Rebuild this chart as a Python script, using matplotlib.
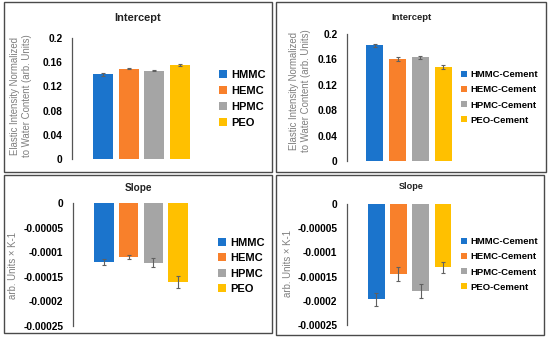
import matplotlib
matplotlib.use("Agg")
import matplotlib.pyplot as plt
from matplotlib.patches import Rectangle, Patch
import numpy as np

plt.rcParams['font.family'] = ['Liberation Sans', 'DejaVu Sans']

# ---------------- data ----------------
labels_left = ["HMMC", "HEMC", "HPMC", "PEO"]
labels_right = ["HMMC-Cement", "HEMC-Cement", "HPMC-Cement", "PEO-Cement"]
colors = ["#1b74cc", "#f8802b", "#a5a5a5", "#ffc000"]

intercept_polymer = [0.140, 0.149, 0.146, 0.155]
intercept_polymer_err = [0.002, 0.001, 0.001, 0.002]
intercept_cement = [0.182, 0.160, 0.163, 0.148]
intercept_cement_err = [0.003, 0.003, 0.003, 0.003]

slope_polymer = [-0.000120, -0.000109, -0.000121, -0.000160]
slope_polymer_err = [0.000006, 0.000004, 0.000010, 0.000012]
slope_cement = [-0.000197, -0.000145, -0.000180, -0.000131]
slope_cement_err = [0.000014, 0.000015, 0.000014, 0.000012]

intercept_ticks = [0, 0.04, 0.08, 0.12, 0.16, 0.2]
intercept_ticklabels = ["0", "0.04", "0.08", "0.12", "0.16", "0.2"]
slope_ticks = [0, -0.00005, -0.0001, -0.00015, -0.0002, -0.00025]
slope_ticklabels = ["0", "-0.00005", "-0.0001", "-0.00015", "-0.0002", "-0.00025"]

W, H = 550, 341
fig = plt.figure(figsize=(W / 100, H / 100), dpi=100)


def fx(px):
    return px / W


def fy(py):
    return 1 - py / H


# panel borders (pixel boxes)
for (x0, y0, x1, y1) in [(4, 2, 272, 172), (276, 2, 546, 172),
                         (4, 175, 272, 333), (276, 175, 544, 335)]:
    fig.patches.append(Rectangle((fx(x0), fy(y1)), fx(x1 - x0), (y1 - y0) / H,
                                 transform=fig.transFigure, fill=False,
                                 edgecolor="#4a4a4a", linewidth=1.0))


def panel(rect_px, xlim, values, errs, ylim, ticks, ticklabels, width, labels,
          title, title_xy, title_size, ylabel, ylabel_xy, leg_xy, leg_size,
          leg_spacing, handle_w):
    x0, ytop, x1, ybot = rect_px
    ax = fig.add_axes([fx(x0), fy(ybot), fx(x1 - x0), (ybot - ytop) / H])
    x = np.arange(len(values))
    ax.bar(x, values, width=width, color=colors, zorder=2)
    ax.errorbar(x, values, yerr=errs, fmt="none", ecolor="#606060",
                elinewidth=0.8, capsize=1.6, capthick=0.8, zorder=3)
    ax.set_xlim(*xlim)
    ax.set_ylim(*ylim)
    ax.set_yticks(ticks)
    ax.set_yticklabels(ticklabels, fontsize=7.4, fontweight="bold")
    ax.set_xticks([])
    for s in ["top", "right", "bottom"]:
        ax.spines[s].set_visible(False)
    ax.spines["left"].set_color("#555555")
    ax.spines["left"].set_linewidth(0.9)
    ax.tick_params(axis="y", length=0, pad=7)
    ax.patch.set_alpha(0)
    fig.text(fx(title_xy[0]), fy(title_xy[1]), title, ha="center", va="center",
             fontsize=title_size, fontweight="bold", color="#222222")
    fig.text(fx(ylabel_xy[0]), fy(ylabel_xy[1]), ylabel, ha="center", va="center",
             rotation=90, fontsize=6.9, color="#7f7f7f", multialignment="center",
             linespacing=1.15)
    handles = [Patch(facecolor=c, edgecolor="none") for c in colors]
    hl = handle_w / (leg_size * 100 / 72)
    ax.legend(handles, labels, loc="center left",
              bbox_to_anchor=(fx(leg_xy[0]), fy(leg_xy[1])),
              bbox_transform=fig.transFigure, frameon=False,
              prop={"size": leg_size, "weight": "bold"},
              handlelength=hl, handleheight=hl, handletextpad=0.35,
              labelspacing=leg_spacing, borderpad=0, borderaxespad=0)
    return ax


ylabel_int = "Elastic Intensity Normalized\nto Water Content (arb. Units)"
ylabel_slope = "arb. Units \u00d7 K-1"

panel((72, 38, 211, 159), (-1.2, 4.2), intercept_polymer, intercept_polymer_err,
      (0, 0.2), intercept_ticks, intercept_ticklabels, 0.78, labels_left,
      "Intercept", (138, 18), 7.9, ylabel_int, (21, 96), (219, 99), 8.0, 0.55, 8)

panel((347, 34, 471, 161), (-1.2, 4.2), intercept_cement, intercept_cement_err,
      (0, 0.2), intercept_ticks, intercept_ticklabels, 0.76, labels_right,
      "Intercept", (411, 17), 6.8, ylabel_int, (300, 91), (461, 97.5), 6.8, 0.65, 6)

panel((73, 203, 209, 326), (-1.25, 4.25), slope_polymer, slope_polymer_err,
      (-0.00025, 0), slope_ticks, slope_ticklabels, 0.78, labels_left,
      "Slope", (138, 188), 7.2, ylabel_slope, (13, 265), (218, 266), 8.0, 0.5, 8)

panel((347, 204, 472, 325), (-1.3, 4.3), slope_cement, slope_cement_err,
      (-0.00025, 0), slope_ticks, slope_ticklabels, 0.76, labels_right,
      "Slope", (411, 187), 6.6, ylabel_slope, (288, 263), (461, 264.5), 6.8, 0.65, 6)

fig.savefig("out.png", dpi=100)
